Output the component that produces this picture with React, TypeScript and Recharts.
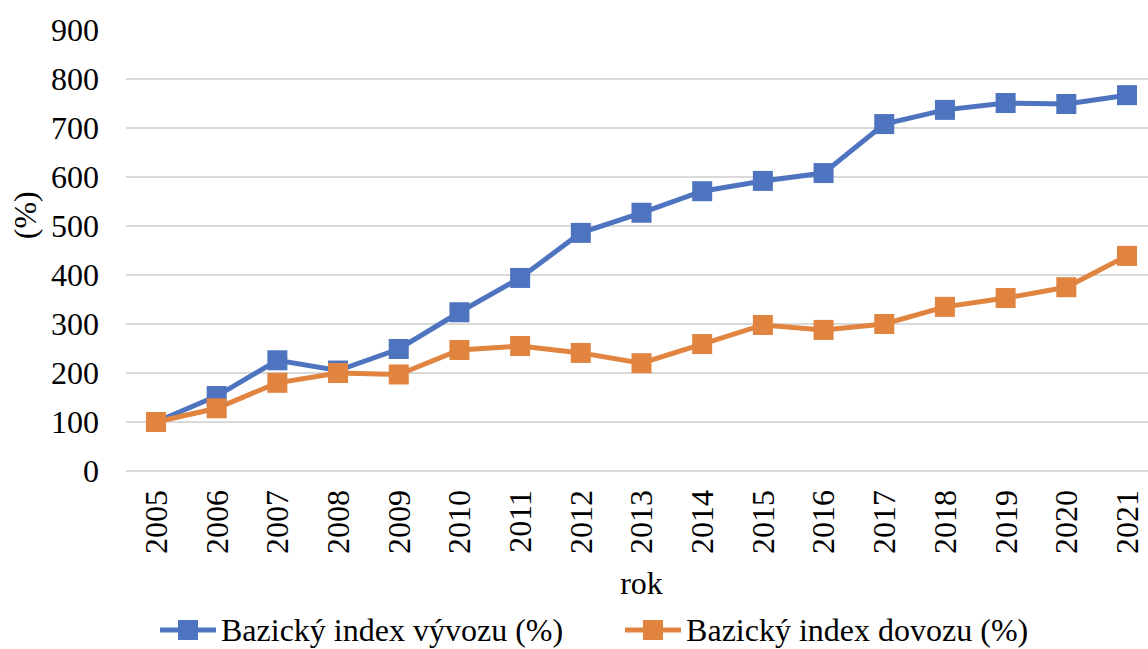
import { CartesianGrid, Label, Legend, Line, LineChart, XAxis, YAxis } from "recharts";

const years = ["2005", "2006", "2007", "2008", "2009", "2010", "2011", "2012", "2013", "2014", "2015", "2016", "2017", "2018", "2019", "2020", "2021"];
const exportIndex = [100, 153, 226, 205, 249, 324, 394, 486, 527, 571, 592, 608, 708, 737, 751, 749, 767];
const importIndex = [100, 128, 180, 200, 197, 247, 255, 241, 220, 259, 298, 288, 300, 335, 353, 375, 439];
const yTicks = [0, 100, 200, 300, 400, 500, 600, 700, 800, 900];
const gridValues = [0, 100, 200, 300, 400, 500, 600, 700, 800];
const seriesOrder = ["vyvoz", "dovoz"];

const data = years.map((year, i) => ({ year, vyvoz: exportIndex[i], dovoz: importIndex[i] }));

const FONT = "'Liberation Serif', 'DejaVu Serif', 'Times New Roman', serif";
const BLUE = "#4E73BF";
const ORANGE = "#E0843F";

function SquareDot(props: any) {
  const { cx, cy, stroke } = props;
  if (cx == null || cy == null) return null;
  return <rect x={cx - 10} y={cy - 10} width={20} height={20} fill={stroke} />;
}

function YearTick(props: any) {
  const { x, y, payload } = props;
  return (
    <text
      x={x}
      y={y + 19}
      transform={`rotate(-90, ${x}, ${y + 19})`}
      textAnchor="end"
      dy="0.34em"
      fontFamily={FONT}
      fontSize={32}
      fill="#000"
    >
      {payload.value}
    </text>
  );
}

function LegendContent(props: any) {
  const items = [...(props.payload || [])].sort(
    (a: any, b: any) => seriesOrder.indexOf(a.dataKey) - seriesOrder.indexOf(b.dataKey)
  );
  return (
    <div style={{ height: 52, display: "flex", alignItems: "center", paddingLeft: 160, paddingTop: 14, boxSizing: "border-box", fontFamily: FONT, fontSize: 32, color: "#000" }}>
      {items.map((item: any, i: number) => (
        <div key={item.value} style={{ display: "flex", alignItems: "center", marginRight: i === 0 ? 62 : 0 }}>
          <svg width={56} height={22} style={{ marginRight: 5 }}>
            <line x1={0} y1={11} x2={56} y2={11} stroke={item.color} strokeWidth={5} />
            <rect x={18} y={1} width={20} height={20} fill={item.color} />
          </svg>
          <span style={{ whiteSpace: "nowrap" }}>{item.value}</span>
        </div>
      ))}
    </div>
  );
}

export default function App() {
  return (
    <div style={{ position: "absolute", left: 0, top: 0, width: 1148, height: 649, overflow: "hidden", background: "#fff" }}>
      <LineChart width={1168} height={649} data={data} margin={{ top: 30, right: 11, bottom: 0, left: 0 }}>
        <CartesianGrid vertical={false} stroke="#d9d9d9" strokeWidth={2} horizontalValues={gridValues} />
        <XAxis
          dataKey="year"
          height={126}
          padding={{ left: 30, right: 30 }}
          tick={<YearTick />}
          tickLine={false}
          tickSize={0}
          tickMargin={0}
          axisLine={{ stroke: "#d9d9d9", strokeWidth: 2 }}
          interval={0}
        >
          <Label value="rok" position="insideBottom" offset={3} style={{ fontFamily: FONT, fontSize: 32, fill: "#000" }} />
        </XAxis>
        <YAxis
          width={126}
          domain={[0, 900]}
          ticks={yTicks}
          interval={0}
          axisLine={false}
          tickLine={false}
          tickSize={0}
          tickMargin={27}
          tick={{ fontFamily: FONT, fontSize: 32, fill: "#000" }}
        >
          <Label
            content={(p: any) => {
              const vb = p.viewBox;
              const lx = vb.x + 25;
              const ly = vb.y + vb.height * 0.42;
              return (
                <text x={lx} y={ly} transform={`rotate(-90, ${lx}, ${ly})`} textAnchor="middle" dy="0.34em" fontFamily={FONT} fontSize={32} fill="#000">
                  (%)
                </text>
              );
            }}
          />
        </YAxis>
        <Legend verticalAlign="bottom" content={<LegendContent />} />
        <Line
          name="Bazický index vývozu (%)"
          dataKey="vyvoz"
          stroke={BLUE}
          strokeWidth={5}
          dot={<SquareDot />}
          activeDot={false}
          isAnimationActive={false}
        />
        <Line
          name="Bazický index dovozu (%)"
          dataKey="dovoz"
          stroke={ORANGE}
          strokeWidth={5}
          dot={<SquareDot />}
          activeDot={false}
          isAnimationActive={false}
        />
      </LineChart>
    </div>
  );
}
